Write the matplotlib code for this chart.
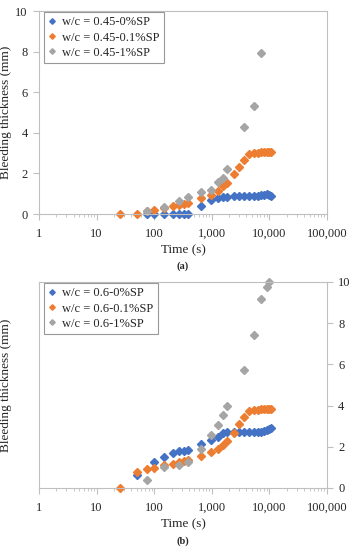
import matplotlib.pyplot as plt
from matplotlib.ticker import FuncFormatter, LogLocator, NullFormatter, MultipleLocator

plt.rcParams['font.family'] = ['Liberation Serif', 'DejaVu Serif']

# panel (a): w/c = 0.45
t_a_0 = [75, 100, 150, 210, 270, 330, 390, 660, 960, 1260, 1560, 1860, 2400, 3000,
         3600, 4500, 5400, 6300, 7200, 8100, 9000, 9900, 10800]
h_a_0 = [0, 0, 0, 0, 0, 0, 0, 0.41, 0.67, 0.79, 0.82, 0.82, 0.87, 0.88,
         0.88, 0.88, 0.88, 0.9, 0.92, 0.95, 0.98, 0.95, 0.9]
t_a_01 = [25, 50, 75, 100, 150, 210, 270, 330, 390, 660, 960, 1260, 1560, 1860,
          2400, 3000, 3600, 4500, 5400, 6300, 7200, 8100, 9000, 9900, 10800]
h_a_01 = [0, 0, 0.16, 0.21, 0.3, 0.37, 0.46, 0.51, 0.54, 0.79, 0.95, 1.11, 1.36, 1.55,
          1.96, 2.3, 2.65, 2.95, 3.0, 3.02, 3.03, 3.03, 3.03, 3.03, 3.03]
t_a_1 = [75, 150, 270, 390, 660, 960, 1260, 1560, 1860, 3600, 5400, 7200]
h_a_1 = [0.15, 0.33, 0.62, 0.82, 1.1, 1.18, 1.58, 1.78, 2.23, 4.27, 5.34, 7.91]

# panel (b): w/c = 0.6
t_b_0 = [50, 100, 150, 210, 270, 330, 390, 660, 960, 1260, 1560, 1860, 2400, 3000,
         3600, 4500, 5400, 6300, 7200, 8100, 9000, 9900, 10800]
h_b_0 = [0.65, 1.24, 1.5, 1.7, 1.78, 1.81, 1.83, 2.14, 2.31, 2.5, 2.65, 2.7, 2.7, 2.7,
         2.7, 2.72, 2.72, 2.72, 2.74, 2.76, 2.8, 2.84, 2.9]
t_b_01 = [25, 50, 75, 100, 150, 210, 270, 330, 390, 660, 960, 1260, 1560, 1860,
          2400, 3000, 3600, 4500, 5400, 6300, 7200, 8100, 9000, 9900, 10800]
h_b_01 = [0, 0.8, 0.94, 0.97, 1.1, 1.18, 1.26, 1.33, 1.37, 1.53, 1.73, 1.91, 2.1, 2.26,
          2.68, 3.1, 3.45, 3.72, 3.77, 3.8, 3.82, 3.82, 3.82, 3.82, 3.82]
t_b_1 = [75, 150, 270, 390, 660, 960, 1260, 1560, 1860, 3600, 5400, 7200, 9000, 9900]
h_b_1 = [0.37, 1.0, 1.1, 1.27, 1.87, 2.55, 3.07, 3.56, 3.96, 5.74, 7.41, 9.19, 9.76, 10.0]

labels_a = ['w/c = 0.45-0%SP', 'w/c = 0.45-0.1%SP', 'w/c = 0.45-1%SP']
labels_b = ['w/c = 0.6-0%SP', 'w/c = 0.6-0.1%SP', 'w/c = 0.6-1%SP']
colors = ['#4472C4', '#ED7D31', '#A5A5A5']

spine_c = '#bfbfbf'
txt_c = '#262626'

fig = plt.figure(figsize=(3.54, 5.5), dpi=100)
ax_a = fig.add_axes([39 / 354, 1 - 214 / 550, 288 / 354, 203 / 550])
ax_b = fig.add_axes([39 / 354, 1 - 488 / 550, 288 / 354, 206 / 550])


def style(ax, right=False):
    ax.set_xscale('log')
    ax.set_xlim(1, 100000)
    ax.set_ylim(0, 10)
    ax.xaxis.set_major_locator(LogLocator(base=10, numticks=10))
    ax.xaxis.set_minor_locator(LogLocator(base=10, subs=range(2, 10), numticks=20))
    ax.xaxis.set_minor_formatter(NullFormatter())
    ax.xaxis.set_major_formatter(FuncFormatter(lambda v, p: f'{v:,.0f}'))
    ax.yaxis.set_major_locator(MultipleLocator(2))
    for s in ax.spines.values():
        s.set_color(spine_c)
        s.set_linewidth(0.8)
    ax.tick_params(axis='both', which='both', color=spine_c, labelcolor=txt_c,
                   labelsize=9, direction='out')
    ax.tick_params(axis='x', which='major', length=4, pad=6)
    ax.tick_params(axis='x', which='minor', length=2.5)
    ax.tick_params(axis='y', length=4, pad=4)
    if right:
        ax.yaxis.tick_right()
    ax.set_xlabel('Time (s)', fontsize=9.5, color=txt_c, labelpad=3)
    ax.set_ylabel('Bleeding thickness (mm)', fontsize=9.5, color=txt_c, labelpad=6)
    if right:
        ax.yaxis.set_label_position('left')
        ax.yaxis.set_label_coords(-0.095, 0.5)


def draw(ax, series, labels):
    for (t, h), lab, c in zip(series, labels, colors):
        ax.plot(t, h, linestyle='none', marker='D', markersize=4, color=c,
                label=lab, clip_on=False)
    leg = ax.legend(loc='upper left', bbox_to_anchor=(0.018, 0.995), fontsize=9,
                    frameon=True, fancybox=False, edgecolor='#7f7f7f',
                    handlelength=0.6, handletextpad=0.5, borderpad=0.35,
                    labelspacing=0.25, markerscale=0.7, borderaxespad=0)
    leg.get_frame().set_linewidth(0.8)
    for txt in leg.get_texts():
        txt.set_color(txt_c)


draw(ax_a, [(t_a_0, h_a_0), (t_a_01, h_a_01), (t_a_1, h_a_1)], labels_a)
draw(ax_b, [(t_b_0, h_b_0), (t_b_01, h_b_01), (t_b_1, h_b_1)], labels_b)
style(ax_a)
style(ax_b, right=True)
ax_a.yaxis.set_label_coords(-0.095, 0.5)

fig.text(183 / 354, 1 - 266 / 550, '(a)', ha='center', va='center',
         fontsize=7.5, fontweight='bold', color=txt_c)
fig.text(183 / 354, 1 - 541 / 550, '(b)', ha='center', va='center',
         fontsize=7.5, fontweight='bold', color=txt_c)

fig.savefig('out.png', dpi=100)
